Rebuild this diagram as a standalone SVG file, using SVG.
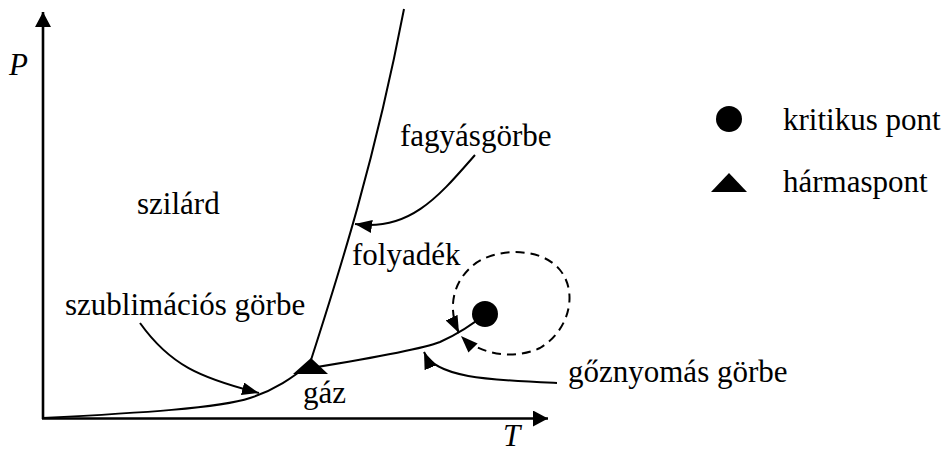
<svg xmlns="http://www.w3.org/2000/svg" width="949" height="452" viewBox="0 0 949 452">
<style>
text{font-family:'Liberation Serif','Times New Roman',Times,serif;font-size:31px;fill:#000}
.i{font-style:italic}
.ln{fill:none;stroke:#000;stroke-width:2}
.ax{fill:none;stroke:#000;stroke-width:2.6}
.ds{fill:none;stroke:#000;stroke-width:2;stroke-dasharray:9,6}
</style>
<defs>
<marker id="ah" viewBox="0 0 17 13" refX="17" refY="6.5" markerWidth="17" markerHeight="13" orient="auto" markerUnits="userSpaceOnUse"><path d="M0,0 L17,6.5 L0,13 z" fill="#000"/></marker>
<marker id="ah2" viewBox="0 0 17 13" refX="17" refY="6.5" markerWidth="17" markerHeight="13" orient="auto-start-reverse" markerUnits="userSpaceOnUse"><path d="M0,0 L17,6.5 L0,13 z" fill="#000"/></marker>
<marker id="axh" viewBox="0 0 15 16" refX="15" refY="8" markerWidth="15" markerHeight="16" orient="auto" markerUnits="userSpaceOnUse"><path d="M0,0 L15,8 L0,16 z" fill="#000"/></marker>
</defs>
<g id="axes">
<path class="ax" d="M43,419 L43,12" marker-end="url(#axh)"/>
<path class="ax" d="M42,418.5 L548,418.5" marker-end="url(#axh)"/>
<text class="i" x="9" y="75">P</text>
<text class="i" x="503" y="446">T</text>
</g>
<g id="curves">
<path id="sublimation-curve" class="ln" d="M43,418 C140,413 220,408 250,398 C275,390 292,378 311,363"/>
<path id="melting-curve" class="ln" d="M311,360 C340,270 375,160 404,9"/>
<path id="vapour-curve" class="ln" d="M311,368 C360,360 420,350 440,342 C460,333 472,325 485,314"/>
</g>
<g id="triple-point"><polygon points="311,358 293,374 328,374" fill="#000"/></g>
<g id="critical-point"><circle cx="485" cy="314" r="13" fill="#000"/></g>
<g id="connectors">
<path class="ln" d="M140,323 C170,365 200,378 259,393" marker-end="url(#ah)"/>
<path class="ln" d="M475,155 C440,195 410,232 355,224" marker-end="url(#ah)"/>
<path class="ln" d="M557,383 C490,380 435,378 424,352" marker-end="url(#ah)"/>
<path class="ds" d="M459,333 C448,310 452,285 470,268 C490,248 540,245 560,270 C578,292 570,330 540,348 C515,360 480,355 461,336" marker-start="url(#ah2)" marker-end="url(#ah2)"/>
</g>
<g id="labels">
<text x="137" y="214">szilárd</text>
<text x="400" y="146">fagyásgörbe</text>
<text x="352" y="265">folyadék</text>
<text x="65" y="315">szublimációs görbe</text>
<text x="303" y="403">gáz</text>
<text x="568" y="382">gőznyomás görbe</text>
</g>
<g id="legend">
<circle cx="729" cy="119" r="13" fill="#000"/>
<text x="783" y="130">kritikus pont</text>
<polygon points="729,173 711,192 747,192" fill="#000"/>
<text x="783" y="192">hármaspont</text>
</g>
</svg>
